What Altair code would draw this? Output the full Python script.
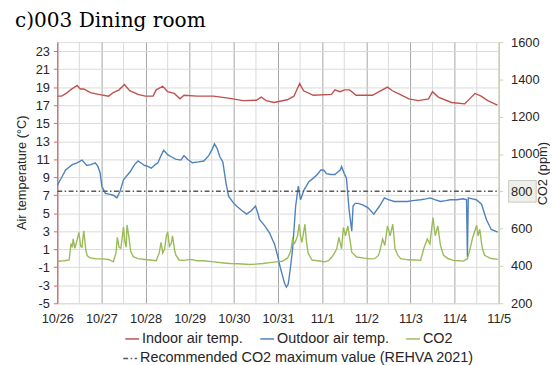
import json
import altair as alt
import pandas as pd

# ---------------- data ----------------
day_labels = ["10/26", "10/27", "10/28", "10/29", "10/30", "10/31",
              "11/1", "11/2", "11/3", "11/4", "11/5"]
series_names = ["Indoor air temp.", "Outdoor air temp.", "CO2"]
series_colors = ["#C0504D", "#4F81BD", "#9BBB59"]
ref_name = "Recommended CO2 maximum value (REHVA 2021)"
ref_color = "#595959"

indoor_day = [0.00, 0.10, 0.20, 0.30, 0.45, 0.52, 0.60, 0.75, 0.94, 1.16, 1.27, 1.40,
              1.52, 1.64, 1.83, 1.99, 2.17, 2.24, 2.39, 2.50, 2.65, 2.78, 2.87, 3.17,
              3.54, 3.91, 4.21, 4.51, 4.62, 4.73, 4.91, 5.21, 5.36, 5.49, 5.58, 5.80,
              6.21, 6.29, 6.40, 6.51, 6.62, 6.77, 7.14, 7.29, 7.48, 7.59, 7.74, 7.96,
              8.18, 8.41, 8.50, 8.63, 8.93, 9.23, 9.34, 9.46, 9.60, 9.75, 9.97]
indoor_temp = [18.0, 18.0, 18.3, 18.7, 19.2, 18.8, 18.8, 18.4, 18.2, 18.0, 18.4, 18.7,
               19.3, 18.6, 18.2, 18.0, 18.0, 18.7, 19.1, 18.5, 18.3, 17.7, 18.1, 18.0,
               18.0, 17.75, 17.5, 17.55, 17.9, 17.5, 17.3, 17.6, 18.0, 19.4, 18.6, 18.1,
               18.2, 18.7, 18.5, 18.7, 18.7, 18.1, 18.1, 18.5, 19.0, 18.6, 18.25, 17.7,
               17.5, 17.7, 18.5, 17.9, 17.3, 17.15, 17.7, 18.3, 18.0, 17.5, 17.0]

outdoor_day = [0.00, 0.08, 0.19, 0.34, 0.45, 0.56, 0.67, 0.76, 0.86, 0.92, 0.97, 1.01,
               1.09, 1.20, 1.27, 1.35, 1.42, 1.50, 1.65, 1.75, 1.83, 1.92, 1.98, 2.05,
               2.13, 2.22, 2.28, 2.35, 2.41, 2.50, 2.57, 2.68, 2.80, 2.87, 2.95, 3.06,
               3.20, 3.32, 3.43, 3.50, 3.56, 3.62, 3.68, 3.75, 3.82, 3.88, 3.98, 4.06,
               4.18, 4.29, 4.40, 4.49, 4.55, 4.58, 4.70, 4.81, 4.88, 4.92, 4.99, 5.05,
               5.10, 5.15, 5.19, 5.23, 5.27, 5.33, 5.40, 5.46, 5.51, 5.59, 5.70, 5.80,
               5.89, 5.97, 6.03, 6.10, 6.20, 6.29, 6.36, 6.41, 6.44, 6.50, 6.55, 6.61,
               6.67, 6.70, 6.75, 6.82, 6.93, 7.04, 7.17, 7.30, 7.41, 7.50, 7.63, 7.80,
               7.93, 8.05, 8.23, 8.35, 8.45, 8.55, 8.68, 8.80, 8.90, 9.05, 9.20, 9.27,
               9.29, 9.31, 9.40, 9.49, 9.61, 9.72, 9.83, 9.98]
outdoor_temp = [8.1, 8.8, 9.8, 10.4, 10.6, 10.9, 10.3, 10.4, 10.6, 10.2, 9.5, 8.0,
                7.2, 7.1, 7.0, 6.7, 7.4, 8.7, 9.6, 10.4, 10.8, 10.5, 10.3, 10.2,
                10.0, 10.4, 10.6, 11.4, 12.0, 11.5, 11.3, 11.0, 10.9, 11.4, 11.0, 10.6,
                10.7, 10.8, 11.4, 12.0, 12.7, 12.2, 11.3, 10.7, 8.4, 6.9, 6.2, 5.8,
                5.3, 4.9, 5.3, 5.8, 4.9, 4.3, 3.6, 2.8, 2.0, 1.6, 0.3, -1.0,
                -1.9, -2.8, -3.2, -2.9, -1.5, 1.0, 5.8, 8.0, 6.5, 7.6, 8.5, 8.9,
                9.3, 9.8, 9.8, 9.4, 9.3, 9.3, 9.6, 9.8, 10.2, 9.4, 8.9, 5.4,
                3.0, 5.8, 6.1, 6.1, 5.9, 5.6, 4.9, 5.8, 6.7, 6.5, 6.3, 6.3,
                6.3, 6.4, 6.5, 6.6, 6.7, 6.5, 6.3, 6.4, 6.5, 6.5, 6.6, 6.5,
                0.1, 6.7, 6.6, 6.5, 6.0, 4.3, 3.2, 2.9]

co2_day = [0.00, 0.15, 0.27, 0.31, 0.34, 0.36, 0.40, 0.45, 0.49, 0.53, 0.56, 0.60,
           0.65, 0.68, 0.75, 0.86, 1.01, 1.16, 1.27, 1.33, 1.36, 1.40, 1.44, 1.50,
           1.53, 1.56, 1.58, 1.62, 1.66, 1.72, 1.83, 1.98, 2.10, 2.24, 2.31, 2.35,
           2.39, 2.43, 2.47, 2.50, 2.54, 2.58, 2.61, 2.66, 2.69, 2.76, 2.87, 3.02,
           3.17, 3.32, 3.54, 3.77, 3.91, 4.10, 4.36, 4.50, 4.66, 4.81, 4.96, 5.10,
           5.22, 5.29, 5.33, 5.37, 5.39, 5.44, 5.48, 5.51, 5.54, 5.58, 5.61, 5.64,
           5.68, 5.77, 5.90, 6.07, 6.15, 6.22, 6.28, 6.33, 6.38, 6.44, 6.48, 6.53,
           6.58, 6.63, 6.67, 6.78, 6.95, 7.10, 7.19, 7.27, 7.30, 7.37, 7.42, 7.48,
           7.54, 7.60, 7.65, 7.72, 7.78, 7.95, 8.10, 8.23, 8.30, 8.38, 8.44, 8.51,
           8.56, 8.62, 8.68, 8.75, 8.85, 8.97, 9.10, 9.20, 9.29, 9.35, 9.41, 9.47,
           9.50, 9.53, 9.57, 9.60, 9.63, 9.68, 9.80, 9.87, 9.98]
co2_ppm = [425, 428, 432, 520, 500, 545, 495, 540, 580, 505, 500, 588,
           480, 455, 443, 439, 438, 435, 422, 470, 553, 500, 495, 610,
           530, 500, 620, 560, 480, 450, 439, 435, 432, 428, 470, 527,
           470, 490, 560, 583, 505, 520, 562, 480, 457, 432, 430, 435,
           428, 428, 422, 416, 413, 412, 408, 410, 413, 418, 422, 425,
           443, 480, 545, 520, 527, 560, 624, 560, 527, 580, 624, 540,
           470, 432, 428, 422, 430, 448, 470, 492, 553, 492, 606, 562,
           615, 540, 474, 448, 442, 438, 439, 455, 474, 545, 510, 615,
           562, 624, 492, 455, 439, 433, 432, 430, 492, 545, 518, 659,
           562, 615, 509, 457, 440, 430, 428, 426, 439, 492, 553, 597,
           618, 562, 597, 540, 492, 457, 442, 439, 435]

ref_day = [0, 10]
ref_ppm = [800, 800]
label_box_ppm = [800]

temp_ticks = list(range(-5, 24, 2))
co2_ticks = list(range(200, 1601, 200))
day_ticks = list(range(0, 11))
half_day_grid = [d + 0.5 for d in range(0, 10)]

# ---------------- tables ----------------
temp_df = pd.concat([
    pd.DataFrame({"day": indoor_day, "value": indoor_temp, "series": series_names[0]}),
    pd.DataFrame({"day": outdoor_day, "value": outdoor_temp, "series": series_names[1]}),
])
co2_df = pd.DataFrame({"day": co2_day, "value": co2_ppm, "series": series_names[2]})
ref_df = pd.DataFrame({"day": ref_day, "value": ref_ppm, "line": ref_name})
box_df = pd.DataFrame({"value": label_box_ppm})
half_df = pd.DataFrame({"day": half_day_grid})

FONT = "Liberation Sans"
TXT = "#262626"

x_enc = alt.X(
    "day:Q",
    scale=alt.Scale(domain=[0, 10], nice=False, zero=False),
    axis=alt.Axis(values=day_ticks, labelExpr=json.dumps(day_labels) + "[datum.value]",
                  grid=True, gridColor="#A6A6A6", gridWidth=1, domain=False, ticks=False,
                  labelFontSize=13, labelPadding=10, labelFont=FONT, labelColor=TXT,
                  labelOverlap=False, labelFlush=False, title=None),
)

temp_y = alt.Y(
    "value:Q",
    scale=alt.Scale(domain=[-5, 24], nice=False, zero=False),
    axis=alt.Axis(orient="left", values=temp_ticks, grid=True, gridColor="#D9D9D9",
                  labelExpr="datum.value + ''",
                  domain=True, domainColor="#D46A6A", domainWidth=1.2,
                  ticks=True, tickColor="#D46A6A", tickSize=4,
                  labelFontSize=13, labelPadding=4, labelFont=FONT, labelColor=TXT,
                  labelOverlap=False,
                  title="Air temperature (°C)", titleFont=FONT, titleFontSize=13,
                  titleFontWeight="normal", titleColor=TXT, titleAngle=-90,
                  titleX=-36, titleY=132, titleAlign="center", titleBaseline="middle"),
)

co2_y = alt.Y(
    "value:Q",
    scale=alt.Scale(domain=[200, 1600], nice=False, zero=False),
    axis=alt.Axis(orient="right", values=co2_ticks, grid=False, format="d",
                  domain=True, domainColor="#C6D9A3", domainWidth=1.2,
                  ticks=True, tickColor="#C6D9A3", tickSize=4,
                  labelFontSize=13, labelPadding=8, labelFont=FONT, labelColor=TXT,
                  labelOverlap=False,
                  title="CO2 (ppm)", titleFont=FONT, titleFontSize=13,
                  titleFontWeight="normal", titleColor=TXT, titleAngle=-90,
                  titleX=44, titleY=133, titleAlign="center", titleBaseline="middle",
                  zindex=1),
)

legend_common = dict(title=None, orient="none", direction="horizontal",
                     symbolType="stroke", symbolSize=196, symbolStrokeWidth=1.5,
                     labelFontSize=14.6, labelFont=FONT, labelColor=TXT, labelLimit=600,
                     labelOffset=2, columnPadding=14, padding=0)

color_enc = alt.Color("series:N",
                      scale=alt.Scale(domain=series_names, range=series_colors),
                      sort=series_names,
                      legend=alt.Legend(legendX=68, legendY=293, **legend_common))

dash_enc = alt.StrokeDash("line:N",
                          scale=alt.Scale(domain=[ref_name], range=[[5, 2.5, 1.5, 2.5]]),
                          legend=alt.Legend(legendX=66, legendY=313,
                                            symbolStrokeColor=ref_color, **legend_common))

half_rules = alt.Chart(half_df).mark_rule(color="#D9D9D9", strokeWidth=1).encode(x=x_enc)

temp_lines = alt.Chart(temp_df).mark_line(strokeWidth=1.4).encode(
    x=x_enc, y=temp_y, color=color_enc)

box = alt.Chart(box_df).mark_rect(fill="#EDEFE8", stroke="#C8CBC2", strokeWidth=1,
                                  height=22).encode(
    x=alt.value(458), x2=alt.value(486), y=co2_y)

co2_line = alt.Chart(co2_df).mark_line(strokeWidth=1.4).encode(
    x=x_enc, y=co2_y, color=color_enc)

ref_line = alt.Chart(ref_df).mark_line(strokeWidth=1.5, color=ref_color).encode(
    x=x_enc, y=co2_y, strokeDash=dash_enc)

chart = alt.layer(
    half_rules, temp_lines, alt.layer(box, co2_line, ref_line)
).resolve_scale(y="independent").properties(
    width=448, height=265,
    autosize=alt.AutoSizeParams(type="none"),
    padding={"left": 50, "top": 32, "right": 52, "bottom": 60},
    title=alt.TitleParams("c)003 Dining room", anchor="start", frame="group",
                          font="DejaVu Serif", fontSize=20.4, fontWeight="normal",
                          color="black", dx=-43, dy=13, offset=2, baseline="alphabetic"),
).configure_view(stroke=None).configure(background="white")

chart.save("out.html", embed_options={"renderer": "svg", "actions": False})
